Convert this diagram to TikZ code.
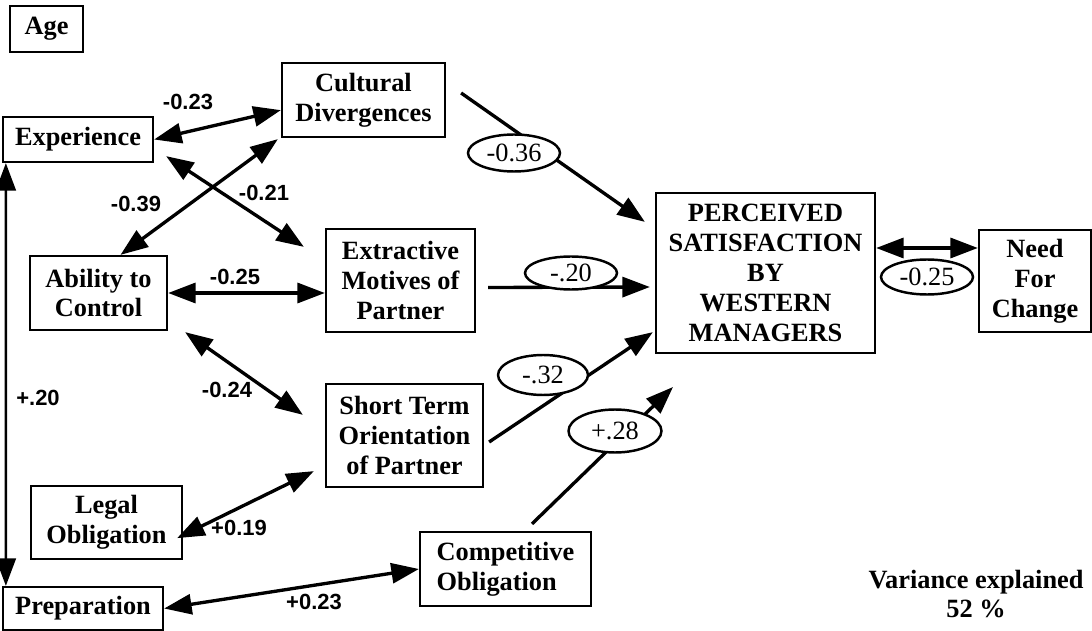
\documentclass[tikz,border=0pt]{standalone}
\usepackage{fontspec}
\setmainfont{Liberation Serif}
\setsansfont{Liberation Sans}
\usetikzlibrary{arrows.meta, shapes.geometric, calc}

\tikzset{
  block/.style={draw, line width=1.3pt, align=center, inner sep=1pt,
    font=\bfseries\fontsize{15}{17}\selectfont},
  coef/.style={ellipse, draw, fill=white, line width=1.4pt, inner sep=0pt,
    minimum width=1.84cm, minimum height=0.74cm,
    font=\fontsize{15}{16}\selectfont},
  lbl/.style={font=\sffamily\bfseries\fontsize{12.5}{14}\selectfont},
  corr/.style={line width=1.9pt, {Triangle[length=0.55cm,width=0.4cm]}-{Triangle[length=0.55cm,width=0.4cm]}},
  effect/.style={line width=1.9pt, -{Triangle[length=0.55cm,width=0.4cm]}}
}

\begin{document}
\begin{tikzpicture}[x=0.02cm, y=-0.02cm]
    \useasboundingbox (0,0) rectangle (1092,631);

    % Nodes
    \node[block, minimum width=1.46cm, minimum height=0.92cm] (age) at (46.5,29) {Age};
    \node[block, minimum width=3.0cm, minimum height=0.9cm] (exp) at (78,139.5) {Experience};
    \node[block, minimum width=3.26cm, minimum height=1.48cm] (cult) at (363.5,100) {Cultural\\Divergences};
    \node[block, minimum width=2.74cm, minimum height=1.48cm] (abil) at (98.5,293) {Ability to\\Control};
    \node[block, minimum width=2.98cm, minimum height=2.06cm] (extr) at (400.5,280.5) {Extractive\\Motives of\\Partner};
    \node[block, minimum width=3.14cm, minimum height=2.06cm] (short) at (404.5,435.5) {Short Term\\Orientation\\of Partner};
    \node[block, minimum width=3.02cm, minimum height=1.46cm] (legal) at (106.5,522.5) {Legal\\Obligation};
    \node[block, minimum width=3.2cm, minimum height=0.86cm] (prep) at (83,608.5) {Preparation};
    \node[block, align=left, minimum width=3.42cm, minimum height=1.48cm] (comp) at (505.5,569) {Competitive\\Obligation};
    \node[block, minimum width=4.38cm, minimum height=3.2cm] (perc) at (765.5,273) {PERCEIVED\\SATISFACTION\\BY\\WESTERN\\MANAGERS};
    \node[block, minimum width=2.24cm, minimum height=2.04cm] (need) at (1035,281) {Need\\For\\Change};
    \coordinate (tip28) at (673,387);

    % Correlations
    \draw[corr] (exp.east) -- (cult.187);
    \draw[corr] ($(exp.south east)+(12,-7)$) -- ($(extr.north west)+(-21,19)$);
    \draw[corr] ($(abil.north)+(22,0)$) -- ($(cult.south west)+(-3,1)$);
    \draw[corr] (abil.east) -- (abil.east -| extr.west);
    \draw[corr] ($(abil.south east)+(17,1)$) -- ($(short.north west)+(-22,32)$);
    \draw[corr] ($(legal.south east)+(-6,-22)$) -- ($(short.south west)+(-11,-17)$);
    \draw[corr] (prep.east) -- (comp.west);
    \draw[corr, line width=1.3pt] ($(exp.south west)+(4,0)$) -- ($(prep.north west)+(4,0)$);
    \draw[corr] ($(perc.east)+(0,-25)$) -- ($(need.west)+(0,-33)$);

    % Paths
    \draw[effect] ($(cult.east)+(15,-7)$) -- ($(perc.north west)+(-10,30)$);
    \draw[effect] ($(extr.east)+(12,7)$) -- ($(perc.west)+(-5,14)$);
    \draw[effect] ($(short.east)+(5,6.5)$) -- ($(perc.south west)+(-2,-22)$);
    \draw[effect] ($(comp.north)+(26.5,-7)$) -- (tip28);

    % Labels
    \node[lbl] (l23) at (188,102) {-0.23};
    \node[lbl] (l39) at (136,204) {-0.39};
    \node[lbl] (l21) at (264,193) {-0.21};
    \node[lbl] (l25) at (235,277) {-0.25};
    \node[lbl] (l24) at (227,390) {-0.24};
    \node[lbl] (l19) at (239,528) {+0.19};
    \node[lbl] (l23b) at (314,602) {+0.23};
    \node[lbl] (l20) at (38,398) {+.20};

    \node[coef] (e36) at (514,153) {-0.36};
    \node[coef, minimum height=0.66cm] (e20) at (571,273) {-.20};
    \node[coef, minimum width=1.8cm, minimum height=0.8cm] (e32) at (543,375) {-.32};
    \node[coef, minimum width=1.86cm, minimum height=0.86cm] (e28) at (615,431) {+.28};
    \node[coef, minimum height=0.7cm] (e25) at (927,277) {-0.25};

    \node[block, draw=none] (var) at (976,594) {Variance explained\\52 \%};
\end{tikzpicture}
\end{document}
